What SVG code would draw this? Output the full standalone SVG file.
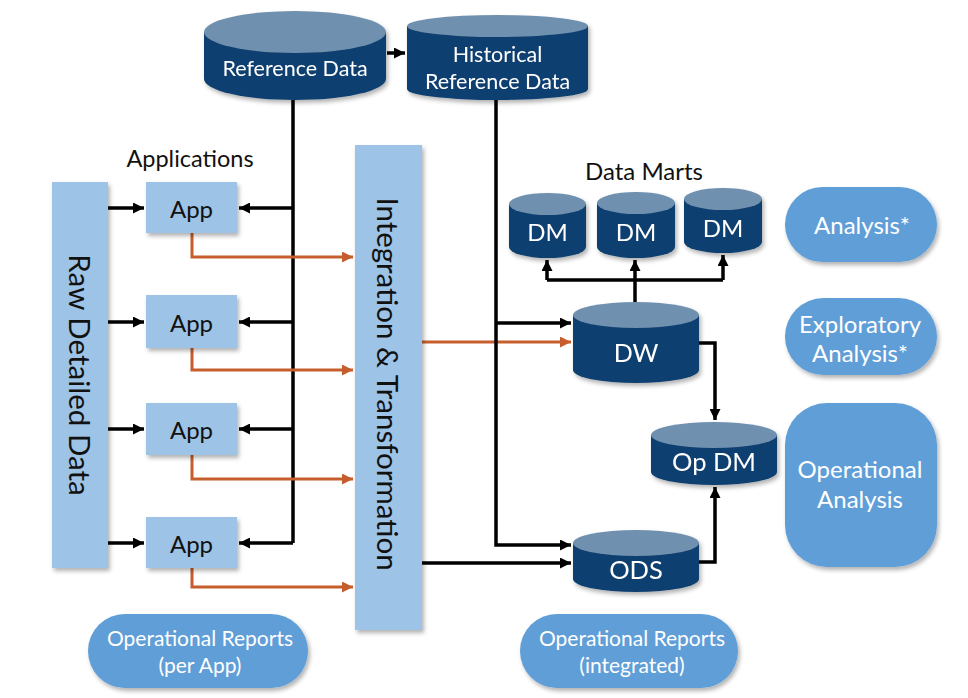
<svg xmlns="http://www.w3.org/2000/svg" width="968" height="698" viewBox="0 0 968 698">
<style>
text{font-family:Lato,"Open Sans","DejaVu Sans",sans-serif;text-anchor:middle;dominant-baseline:central}
.w{fill:#fff}
.k{fill:#111}
.body{fill:#11406F}
.top{fill:#7090B0}
.lb{fill:#9DC3E6}
.pill{fill:#5E9ED7}
.c{fill:none;stroke:#000;stroke-width:3.5}
.o{fill:none;stroke:#C55E2C;stroke-width:3}
.pt{font-size:24px}
</style>
<defs>
<filter id="sh" x="-10%" y="-10%" width="130%" height="130%"><feDropShadow dx="2" dy="3" stdDeviation="2" flood-color="#000" flood-opacity="0.3"/></filter>
<marker id="ab" viewBox="0 0 10 10" refX="10" refY="5" markerWidth="11" markerHeight="11" markerUnits="userSpaceOnUse" orient="auto"><path d="M0,0L10,5L0,10z" fill="#000"/></marker>
<marker id="ao" viewBox="0 0 10 10" refX="10" refY="5" markerWidth="11" markerHeight="11" markerUnits="userSpaceOnUse" orient="auto"><path d="M0,0L10,5L0,10z" fill="#C55E2C"/></marker>
</defs>

<g id="connectors">
<path class="c" d="M387,53H405" marker-end="url(#ab)"/>
<path class="c" d="M293,100V543"/>
<path class="c" d="M293,208H239" marker-end="url(#ab)"/>
<path class="c" d="M293,322H239" marker-end="url(#ab)"/>
<path class="c" d="M293,429H239" marker-end="url(#ab)"/>
<path class="c" d="M293,543H239" marker-end="url(#ab)"/>
<path class="c" d="M108,208H144" marker-end="url(#ab)"/>
<path class="c" d="M108,322H144" marker-end="url(#ab)"/>
<path class="c" d="M108,429H144" marker-end="url(#ab)"/>
<path class="c" d="M108,543H144" marker-end="url(#ab)"/>
<path class="o" d="M192,233V257H353" marker-end="url(#ao)"/>
<path class="o" d="M192,348V370H353" marker-end="url(#ao)"/>
<path class="o" d="M192,455V479H353" marker-end="url(#ao)"/>
<path class="o" d="M192,568V587H353" marker-end="url(#ao)"/>
<path class="o" d="M422,342H571" marker-end="url(#ao)"/>
<path class="c" d="M496,100V545H571" marker-end="url(#ab)"/>
<path class="c" d="M496,323H571" marker-end="url(#ab)"/>
<path class="c" d="M422,563H571" marker-end="url(#ab)"/>
<path class="c" d="M635,302V280"/>
<path class="c" d="M547,280H723"/>
<path class="c" d="M547,280V260" marker-end="url(#ab)"/>
<path class="c" d="M635,280V260" marker-end="url(#ab)"/>
<path class="c" d="M723,280V255" marker-end="url(#ab)"/>
<path class="c" d="M699,343H715V420" marker-end="url(#ab)"/>
<path class="c" d="M699,562H715V487" marker-end="url(#ab)"/>
</g>

<g id="reference-data" filter="url(#sh)">
<path class="body" d="M204,32V79A91,21 0 0 0 386,79V32Z"/>
<ellipse class="top" cx="295" cy="32" rx="91" ry="21"/>
<text class="w" x="295" y="68" font-size="21.5">Reference Data</text>
</g>
<g id="historical-reference-data" filter="url(#sh)">
<path class="body" d="M407,26V89A90.5,11 0 0 0 588,89V26Z"/>
<ellipse class="top" cx="497.5" cy="26" rx="90.5" ry="11"/>
<text class="w" x="497.5" y="54" font-size="21.5">Historical</text>
<text class="w" x="497.5" y="81" font-size="21.5">Reference Data</text>
</g>

<text id="applications-label" class="k" x="190" y="158" font-size="23.5">Applications</text>

<g id="raw-detailed-data">
<rect class="lb" x="52" y="182" width="56" height="386" filter="url(#sh)"/>
<text class="k" font-size="29.5" transform="translate(80,375) rotate(90)">Raw Detailed Data</text>
</g>

<g id="app1"><rect class="lb" x="146" y="182" width="91" height="51" filter="url(#sh)"/><text class="k" x="191.5" y="208" font-size="24">App</text></g>
<g id="app2"><rect class="lb" x="146" y="295" width="91" height="53" filter="url(#sh)"/><text class="k" x="191.5" y="322" font-size="24">App</text></g>
<g id="app3"><rect class="lb" x="146" y="403" width="91" height="52" filter="url(#sh)"/><text class="k" x="191.5" y="429" font-size="24">App</text></g>
<g id="app4"><rect class="lb" x="146" y="517" width="91" height="51" filter="url(#sh)"/><text class="k" x="191.5" y="543" font-size="24">App</text></g>

<g id="integration-transformation">
<rect class="lb" x="355" y="145" width="67" height="485" filter="url(#sh)"/>
<text class="k" font-size="29.5" transform="translate(388,384) rotate(90)">Integration &amp; Transformation</text>
</g>

<text id="data-marts-label" class="k" x="644" y="170" font-size="24">Data Marts</text>

<g id="dm1" filter="url(#sh)">
<path class="body" d="M509,204V247A38.5,11 0 0 0 586,247V204Z"/>
<ellipse class="top" cx="547.5" cy="204" rx="38.5" ry="11"/>
<text class="w" x="547.5" y="231" font-size="24">DM</text>
</g>
<g id="dm2" filter="url(#sh)">
<path class="body" d="M597,203V247A39,11 0 0 0 675,247V203Z"/>
<ellipse class="top" cx="636" cy="203" rx="39" ry="11"/>
<text class="w" x="636" y="231" font-size="24">DM</text>
</g>
<g id="dm3" filter="url(#sh)">
<path class="body" d="M684,199V242A39,11 0 0 0 762,242V199Z"/>
<ellipse class="top" cx="723" cy="199" rx="39" ry="11"/>
<text class="w" x="723" y="227" font-size="24">DM</text>
</g>

<g id="dw" filter="url(#sh)">
<path class="body" d="M573,315V370A63,13 0 0 0 699,370V315Z"/>
<ellipse class="top" cx="636" cy="315" rx="63" ry="13"/>
<text class="w" x="636" y="352" font-size="25">DW</text>
</g>
<g id="op-dm" filter="url(#sh)">
<path class="body" d="M651,435V472A63,13 0 0 0 777,472V435Z"/>
<ellipse class="top" cx="714" cy="435" rx="63" ry="13"/>
<text class="w" x="714" y="461" font-size="25.5">Op DM</text>
</g>
<g id="ods" filter="url(#sh)">
<path class="body" d="M573,543V579A63,13 0 0 0 699,579V543Z"/>
<ellipse class="top" cx="636" cy="543" rx="63" ry="13"/>
<text class="w" x="636" y="569" font-size="25.5">ODS</text>
</g>

<g id="analysis"><rect class="pill" x="785" y="187" width="152" height="75" rx="37.5" filter="url(#sh)"/><text class="w pt" x="862" y="224" font-size="25">Analysis*</text></g>
<g id="exploratory-analysis"><rect class="pill" x="785" y="298" width="152" height="77" rx="38.5" filter="url(#sh)"/><text class="w pt" x="860" y="323">Exploratory</text><text class="w pt" x="860" y="352">Analysis*</text></g>
<g id="operational-analysis"><rect class="pill" x="785" y="403" width="152" height="164" rx="42" filter="url(#sh)"/><text class="w pt" x="860" y="468">Operational</text><text class="w pt" x="860" y="498">Analysis</text></g>
<g id="operational-reports-per-app"><rect class="pill" x="88" y="614" width="220" height="74" rx="37" filter="url(#sh)"/><text class="w" x="200" y="637" font-size="21">Operational Reports</text><text class="w" x="200" y="664" font-size="21">(per App)</text></g>
<g id="operational-reports-integrated"><rect class="pill" x="520" y="614" width="218" height="74" rx="37" filter="url(#sh)"/><text class="w" x="632" y="637" font-size="21">Operational Reports</text><text class="w" x="632" y="664" font-size="21">(integrated)</text></g>
</svg>
